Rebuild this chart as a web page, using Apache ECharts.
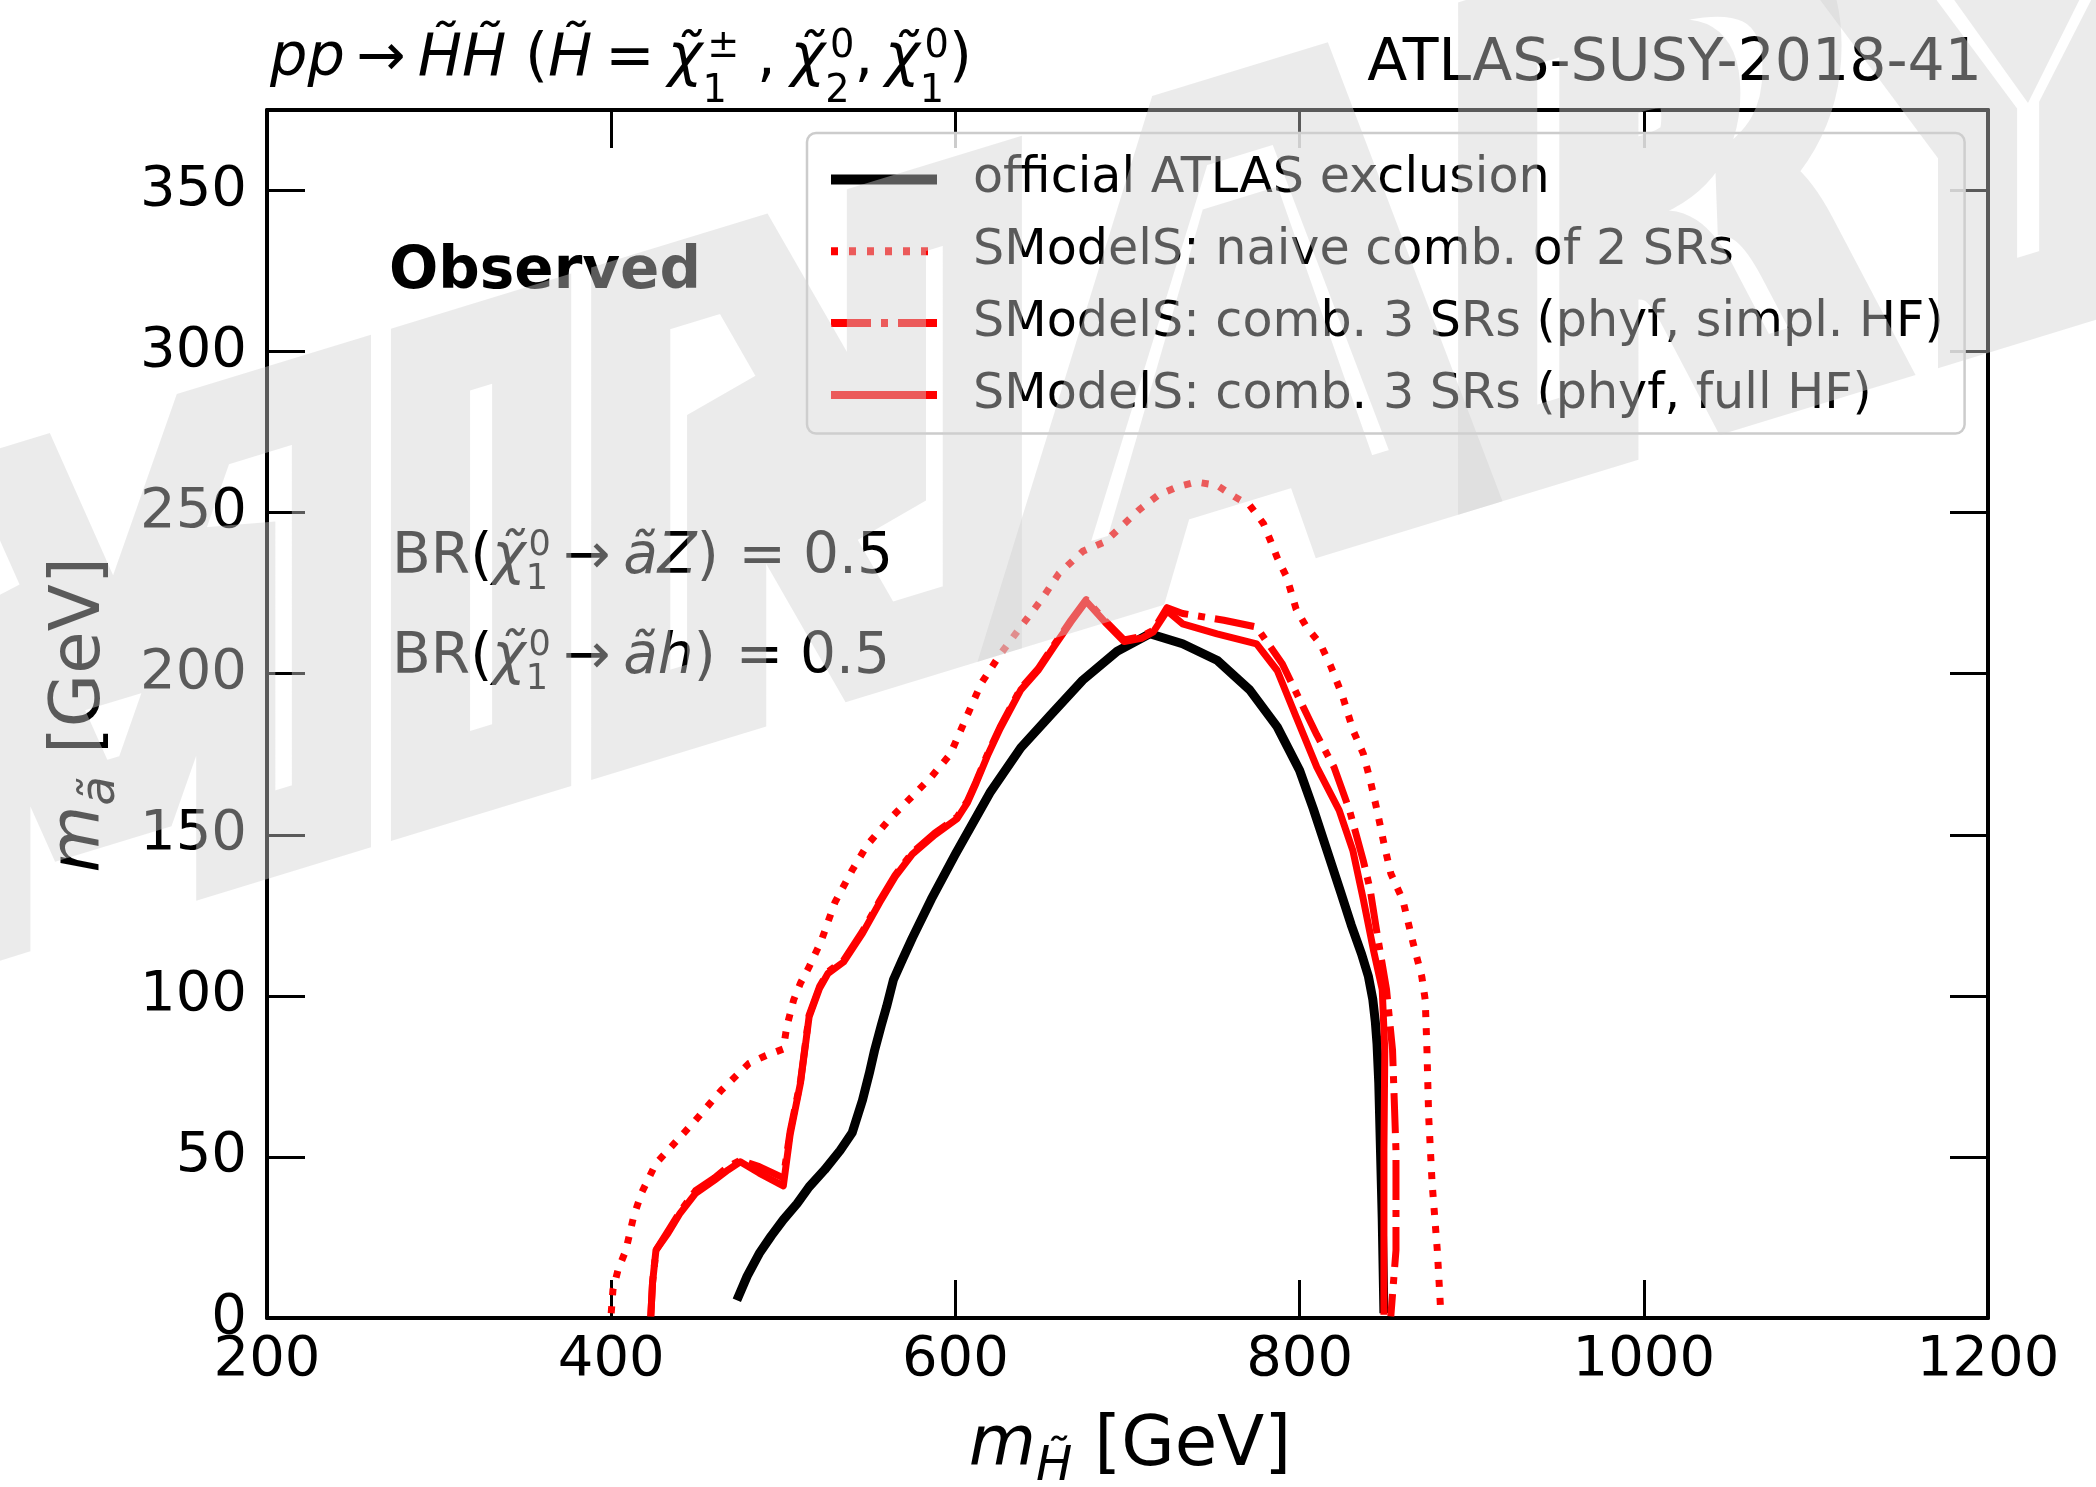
<!DOCTYPE html>
<html><head><meta charset="utf-8">
<script src="https://cdn.jsdelivr.net/npm/echarts@6/dist/echarts.min.js"></script>
<style>html,body{margin:0;padding:0;background:#fff}#c{width:2096px;height:1487px}</style>
</head><body><div id="c"></div>
<script>
// ---------------- data ----------------
const xRange = [200, 1200];
const yRange = [0, 375];
const xStep = 200;
const yStep = 50;
const seriesNames = [
  'official ATLAS exclusion',
  'SModelS: naive comb. of 2 SRs',
  'SModelS: comb. 3 SRs (phyf, simpl. HF)',
  'SModelS: comb. 3 SRs (phyf, full HF)'
];
const atlasOfficial = [[473,5.5],[479,13],[486,20],[493,25.5],[500,30.5],[508,35.5],[515,40.7],[524,46],[533,52],[540,57.5],[546,67.6],[550,76],[553,83],[557,91],[560,96.6],[564,105],[569,111],[575,118],[586,130],[600,144],[620,163],[638,177],[655,187],[674,198],[694,207],[713,212.4],[732,209.3],[752,204.2],[771,195],[787,183.5],[800,170],[808,158],[816,145],[824,132],[830,122],[836,113],[840,106],[842.5,99],[844,92],[845,85],[846,73],[847,52],[848,31],[849,1.5]];
const naiveComb = [[400,1.5],[401,8.7],[404,15],[408.5,21],[413,31.4],[417.5,38.7],[426,48],[435,53.2],[449,61.4],[464,70.7],[480,79],[490,81.5],[500,83.5],[502,90.4],[506,98.7],[510,104],[515,109],[522,117],[530,129],[540,139],[549,147],[562,155],[575,162],[586,168],[597,175],[606,186],[615,197],[626,206],[640,216],[650,223],[660,231],[674,238],[687,241],[694,244.5],[707,251],[718,255.5],[729,258],[740,259.5],[752,258.5],[762,255],[771,252.3],[779,246.6],[783,241.4],[787,236],[792.5,230],[798,220],[804,214.5],[812,209.3],[818,202.5],[825,193],[831,182.5],[837,175.2],[841,167],[845,157.6],[849,147.3],[853,138],[860,129.7],[866,116.3],[871,106],[873,98.7],[874,83.2],[875,62.5],[877,41.8],[880,21.1],[882,2]];
const simplHF = [[423,0.5],[424,10.8],[426,21],[433,27],[440,33],[449,39.5],[460,43.5],[468,47],[475,49],[486,47],[500,43.5],[504,58],[510,73.5],[515,94],[521,102.8],[526,107.5],[535,111],[546,120],[556,129.5],[565,137.5],[575,144.5],[588,150.5],[601,155.5],[607,160.5],[612,166.5],[619,175.5],[626,183.5],[638,195.5],[648,201.5],[658,209.5],[667,216.5],[676,223],[687,216.5],[698,210.5],[708,211.5],[715,213.5],[723,220.5],[732,218.7],[756,216.6],[775,214.5],[790,203],[800,192],[810,181],[820,171],[829,157.6],[837,142],[841,133],[845,119.4],[850.5,102],[854,83.2],[856,52],[856,21],[853,0.5]];
const fullHF = [[423,0.5],[424,10.8],[426,21],[433,26.3],[440,32.5],[449,38.7],[460,42.8],[468,46],[475,48.5],[486,45],[500,41],[504,57],[510,73],[515,93.5],[521,102.3],[526,107],[535,110.5],[546,119.4],[556,129],[565,137],[575,144],[588,150],[601,155],[607,160],[612,166],[619,175],[626,183],[638,195],[648,201],[658,209],[667,216],[676,222.5],[687,216],[698,210],[708,211],[715,213],[723,219.5],[732,215.5],[752,212.4],[775,209.3],[787,201],[798,186.6],[810,171],[823,157.6],[831,145],[837,130],[843,114],[848,102],[849.5,83],[849,52],[849,1]];

// ---------------- text helpers ----------------
const FAM = '"DejaVu Sans"';
const mc = document.createElement('canvas').getContext('2d');
function fnt(st, sz){ return (st ? st + ' ' : '') + sz.toFixed(2) + 'px ' + FAM; }
function kOff(font, sz){
  mc.font = font; mc.textBaseline = 'alphabetic'; const a = mc.measureText('H');
  mc.textBaseline = 'middle'; const m = mc.measureText('H'); mc.textBaseline = 'alphabetic';
  const k = a.fontBoundingBoxAscent - m.fontBoundingBoxAscent;
  return (isFinite(k) && k > 0 && k < sz) ? k : 0.3 * sz;
}
function layoutMath(segs, S){
  let cx = 0, ls = 0, lw = 0; const items = [];
  for (const s of segs){
    const sz = (s.r || 1) * S; const font = fnt(s.st, sz);
    mc.font = font; const w = mc.measureText(s.t).width;
    let sx;
    if (s.stack){ sx = ls + (s.dx || 0) * S; cx = Math.max(ls + lw, sx + w); }
    else { sx = cx + (s.dx || 0) * S; cx = sx + w; ls = sx; lw = w; }
    items.push({t: s.t, font, x: sx, y: (s.dy || 0) * S - kOff(font, sz)});
  }
  return {items, width: cx};
}
function mathEls(lay, dx, color){
  return lay.items.map(it => ({type: 'text', x: it.x + (dx || 0), y: it.y, z: 20, silent: true,
    style: {text: it.t, font: it.font, fill: color || '#000', align: 'left', verticalAlign: 'middle'}}));
}
function fitS(segs, target, S0){ return S0 * target / layoutMath(segs, S0).width; }

const titleSegs = [
  {t:'pp', st:'italic'}, {t:'\u2192', dx:0.2}, {t:'H\u0303', st:'italic', dx:0.2}, {t:'H\u0303', st:'italic'},
  {t:' ('}, {t:'H\u0303', st:'italic'}, {t:'=', dx:0.22}, {t:'\u03c7\u0303', st:'italic', dx:0.22},
  {t:'1', r:0.65, dy:0.45}, {t:'\u00b1', r:0.65, dy:-0.3, stack:true, dx:0.08},
  {t:',', dx:0.3}, {t:'\u03c7\u0303', st:'italic', dx:0.25},
  {t:'2', r:0.65, dy:0.45}, {t:'0', r:0.65, dy:-0.3, stack:true, dx:0.08},
  {t:','}, {t:'\u03c7\u0303', st:'italic', dx:0.2},
  {t:'1', r:0.65, dy:0.45}, {t:'0', r:0.65, dy:-0.3, stack:true, dx:0.08}, {t:')'}
];
function brSegs(decay){
  return [{t:'BR('}, {t:'\u03c7\u0303', st:'italic'}, {t:'1', r:0.62, dy:0.28},
    {t:'0', r:0.62, dy:-0.32, stack:true, dx:0.05}, {t:'\u2192', dx:0.22},
    {t:'\u00e3', st:'italic', dx:0.22}, {t:decay, st:'italic'}, {t:')'}, {t:'=', dx:0.35}, {t:'0.5', dx:0.3}];
}
const xLabelSegs = [{t:'m', st:'italic'}, {t:'H\u0303', st:'italic', r:0.7, dy:0.22}, {t:' [GeV]'}];
const yLabelSegs = [{t:'m', st:'italic'}, {t:'\u00e3', st:'italic', r:0.7, dy:0.22}, {t:' [GeV]'}];

const graphics = [];
// title left
{ const S = fitS(titleSegs, 702, 56); const lay = layoutMath(titleSegs, S);
  graphics.push({type:'group', x:270, y:75, children: mathEls(lay)}); }
// title right
{ const segs = [{t:'ATLAS-SUSY-2018-41'}]; const lay = layoutMath(segs, 58.5);
  graphics.push({type:'group', x:1982 - lay.width, y:80, children: mathEls(lay)}); }
// Observed
{ const segs = [{t:'Observed', st:'bold'}]; const lay = layoutMath(segs, 58);
  graphics.push({type:'group', x:389, y:288, children: mathEls(lay)}); }
// BR lines
{ const s1 = brSegs('Z'), s2 = brSegs('h'); const S = fitS(s1, 501, 56);
  graphics.push({type:'group', x:392, y:573, children: mathEls(layoutMath(s1, S))});
  graphics.push({type:'group', x:392, y:673, children: mathEls(layoutMath(s2, S))}); }
// axis labels
{ const lay = layoutMath(xLabelSegs, 69);
  graphics.push({type:'group', x:1130 - lay.width/2, y:1465, children: mathEls(lay)}); }
{ const lay = layoutMath(yLabelSegs, 69);
  graphics.push({type:'group', x:99, y:715, rotation: Math.PI/2, children: mathEls(lay, -lay.width/2)}); }
// watermark (sheared, outlined text drawn over the plot)
{ const WF = 585; const font = fnt('bold', WF);
  graphics.push({type:'group', x:2223, y:238, skewY: 17*Math.PI/180, children:[
    {type:'group', scaleX:0.92, children:[
      {type:'text', x:0, y:-kOff(font, WF), z:100, silent:true,
       style:{text:'PRELIMINARY', font, fill:'none', stroke:'#d1d1d1', lineWidth:86, lineJoin:'miter',
              align:'right', verticalAlign:'middle', opacity:0.43}}]}]}); }

// ---------------- chart ----------------
const axisCommon = {
  type:'value', splitLine:{show:false},
  axisLine:{show:true, onZero:false, lineStyle:{color:'#000', width:4}},
  axisTick:{show:true, inside:true, length:38, lineStyle:{color:'#000', width:3}}
};
const labelStyle = {color:'#000', fontSize:56, fontFamily:FAM};
const lineStyles = [
  {color:'#000000', width:9, join:'round', cap:'butt'},
  {color:'#ff0000', width:7, type:[7,11], cap:'butt', join:'round'},
  {color:'#ff0000', width:7, type:[40,10,7,10], cap:'butt', join:'round'},
  {color:'#ff0000', width:7, join:'round', cap:'butt'}
];
const dataSets = [atlasOfficial, naiveComb, simplHF, fullHF];
const chart = echarts.init(document.getElementById('c'), null, {renderer:'canvas', width:2096, height:1487});
chart.setOption({
  animation:false,
  backgroundColor:'#fff',
  grid:{left:267, right:108, top:110, bottom:169, containLabel:false, outerBoundsMode:'none'},
  xAxis:[
    Object.assign({}, axisCommon, {min:xRange[0], max:xRange[1], interval:xStep, position:'bottom',
      axisLabel:Object.assign({show:true, margin:14, formatter: v => String(v)}, labelStyle)}),
    Object.assign({}, axisCommon, {min:xRange[0], max:xRange[1], interval:xStep, position:'top',
      axisLabel:{show:false}})
  ],
  yAxis:[
    Object.assign({}, axisCommon, {min:yRange[0], max:yRange[1], interval:yStep, position:'left',
      axisLabel:Object.assign({show:true, margin:20, showMaxLabel:false,
        formatter: v => (v % yStep === 0 ? String(v) : '')}, labelStyle)}),
    Object.assign({}, axisCommon, {min:yRange[0], max:yRange[1], interval:yStep, position:'right',
      axisLabel:{show:false}})
  ],
  legend:{
    show:true, orient:'vertical', left:807, top:133, selectedMode:false,
    padding:[22, 21, 14, 19], itemWidth:106, itemHeight:12, itemGap:22.8,
    backgroundColor:'rgba(255,255,255,0.8)', borderColor:'#cccccc', borderWidth:2.5, borderRadius:9,
    textStyle:{color:'#000', fontSize:49.2, fontFamily:FAM, padding:[0,0,0,31]},
    data: seriesNames.map((n, i) => ({name:n,
      itemStyle:{opacity:0, color:'rgba(0,0,0,0)', borderWidth:0},
      lineStyle:Object.assign({opacity:1}, lineStyles[i], i === 0 ? {width:10} : {width:8})}))
  },
  series: seriesNames.map((n, i) => ({
    name:n, type:'line', data:dataSets[i], symbol:'none', showSymbol:false, z:2 + i,
    itemStyle:{color:lineStyles[i].color}, lineStyle:lineStyles[i]
  })),
  graphic: graphics
});
</script></body></html>
